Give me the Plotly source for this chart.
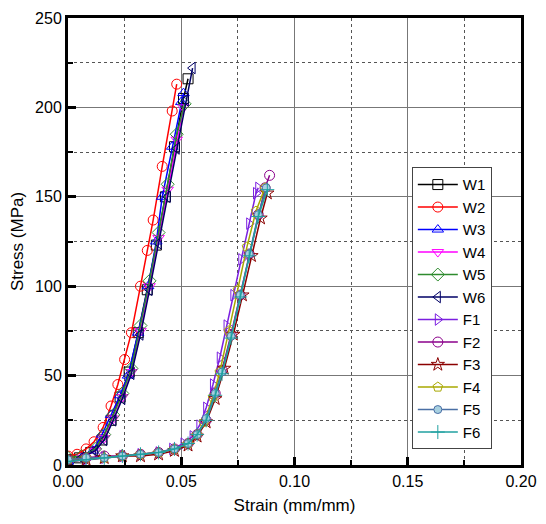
import plotly.graph_objects as go

# strain (mm/mm) / stress (MPa)
w1_x = [0, 0.005, 0.010, 0.015, 0.019, 0.023, 0.027, 0.031, 0.035, 0.039, 0.043, 0.047, 0.051, 0.053]
w1_y = [3, 4, 7, 14, 25, 38, 52, 74, 98, 123, 150, 178, 205, 216]
w2_x = [0, 0.004, 0.008, 0.0115, 0.0155, 0.019, 0.022, 0.025, 0.028, 0.032, 0.035, 0.0376, 0.0416, 0.046, 0.048]
w2_y = [5, 6, 9, 13, 21, 33, 45, 59, 74, 100, 120, 137, 167, 198, 213]
w3_x = [0, 0.006, 0.011, 0.015, 0.019, 0.023, 0.0265, 0.031, 0.0354, 0.039, 0.0416, 0.046, 0.050, 0.051]
w3_y = [2, 4, 8, 17, 28, 39, 50, 74, 100, 125, 150, 178, 203, 208]
w4_x = [0, 0.006, 0.012, 0.016, 0.020, 0.024, 0.028, 0.032, 0.036, 0.040, 0.044, 0.048, 0.051]
w4_y = [3, 4, 8, 15, 26, 38, 52, 75, 100, 127, 154, 182, 200]
w5_x = [0, 0.006, 0.012, 0.016, 0.020, 0.024, 0.028, 0.032, 0.036, 0.040, 0.044, 0.048, 0.0515]
w5_y = [4, 5, 9, 17, 28, 40, 54, 78, 103, 130, 157, 185, 202]
w6_x = [0, 0.006, 0.012, 0.016, 0.020, 0.024, 0.028, 0.032, 0.036, 0.040, 0.044, 0.048, 0.052, 0.055]
w6_y = [2, 4, 8, 14, 25, 37, 51, 73, 98, 124, 150, 177, 204, 222]

f1_x = [0, 0.008, 0.016, 0.024, 0.032, 0.040, 0.046, 0.051, 0.055, 0.058, 0.061, 0.064, 0.067, 0.070, 0.073, 0.0765, 0.080, 0.083, 0.084]
f1_y = [2, 3, 4, 5, 6, 7, 9, 12, 16, 22, 32, 45, 60, 78, 95, 115, 135, 152, 155]
f2_x = [0, 0.008, 0.016, 0.024, 0.032, 0.040, 0.047, 0.053, 0.057, 0.061, 0.065, 0.068, 0.072, 0.076, 0.080, 0.084, 0.087, 0.089]
f2_y = [3, 4, 5, 5, 6, 7, 9, 12, 17, 25, 40, 53, 73, 95, 118, 140, 155, 162]
f3_x = [0, 0.008, 0.016, 0.024, 0.032, 0.040, 0.047, 0.053, 0.057, 0.061, 0.065, 0.069, 0.073, 0.077, 0.081, 0.085, 0.088]
f3_y = [2, 3, 4, 5, 5, 6, 8, 11, 16, 24, 37, 54, 73, 95, 117, 138, 152]
f4_x = [0, 0.008, 0.016, 0.024, 0.032, 0.040, 0.047, 0.053, 0.057, 0.060, 0.064, 0.067, 0.071, 0.075, 0.079, 0.083, 0.087]
f4_y = [3, 4, 4, 5, 6, 7, 9, 12, 17, 24, 38, 52, 75, 98, 122, 142, 155]
f5_x = [0, 0.008, 0.016, 0.024, 0.032, 0.040, 0.047, 0.053, 0.057, 0.061, 0.065, 0.068, 0.072, 0.076, 0.080, 0.084, 0.0875]
f5_y = [3, 4, 4, 5, 6, 7, 9, 12, 17, 26, 40, 52, 72, 95, 118, 140, 155]
f6_x = [0, 0.008, 0.016, 0.024, 0.032, 0.040, 0.047, 0.053, 0.057, 0.061, 0.065, 0.068, 0.072, 0.076, 0.080, 0.084, 0.088]
f6_y = [2, 3, 4, 5, 6, 7, 9, 12, 17, 25, 39, 51, 71, 94, 117, 139, 154]

series = [
    ('W1', w1_x, w1_y, 'black', 'square-open'),
    ('W2', w2_x, w2_y, '#ff0000', 'circle-open'),
    ('W3', w3_x, w3_y, '#0000ff', 'triangle-up-open'),
    ('W4', w4_x, w4_y, '#ff00ff', 'triangle-down-open'),
    ('W5', w5_x, w5_y, '#2e8b2e', 'diamond-open'),
    ('W6', w6_x, w6_y, '#000066', 'triangle-left-open'),
    ('F1', f1_x, f1_y, '#7b1fe0', 'triangle-right-open'),
    ('F2', f2_x, f2_y, '#8b008b', 'circle-open'),
    ('F3', f3_x, f3_y, '#8b0000', 'star-open'),
    ('F4', f4_x, f4_y, '#a8a800', 'pentagon-open'),
    ('F5', f5_x, f5_y, '#4a6fa5', 'circle'),
    ('F6', f6_x, f6_y, '#20a0a0', 'cross-thin-open'),
]

fig = go.Figure()
for name, xs, ys, col, sym in series:
    mk = dict(symbol=sym, size=10, color=col, line=dict(color=col, width=1))
    if sym == 'circle':
        mk = dict(symbol=sym, size=8, color='#a8d0e0', line=dict(color=col, width=1))
    fig.add_trace(go.Scatter(x=xs, y=ys, name=name, mode='lines+markers',
                             line=dict(color=col, width=1.5), marker=mk))

axis_common = dict(
    showline=True, linecolor='black', linewidth=3, mirror=True,
    ticks='inside', ticklen=8, tickwidth=3, tickcolor='black',
    showgrid=True, gridcolor='#777777', gridwidth=1,
    zeroline=False, automargin=False,
    tickfont=dict(family='Arial', size=16, color='black'),
)

fig.update_xaxes(range=[0, 0.2], dtick=0.05, tickformat='.2f',
                 title=dict(text='Strain (mm/mm)', font=dict(family='Arial', size=17, color='black'), standoff=10),
                 minor=dict(dtick=0.025, showgrid=True, griddash='dot', gridcolor='#555555',
                            ticks='inside', ticklen=5, tickwidth=2, tickcolor='black'),
                 **axis_common)
fig.update_yaxes(range=[0, 250], dtick=50,
                 title=dict(text='Stress (MPa)', font=dict(family='Arial', size=17, color='black'), standoff=8),
                 minor=dict(dtick=25, showgrid=True, griddash='dot', gridcolor='#555555',
                            ticks='inside', ticklen=5, tickwidth=2, tickcolor='black'),
                 **axis_common)

# page body has an 8px margin, so the figure is drawn 8px smaller on each side
fig.update_layout(
    width=530, height=508,
    margin=dict(l=60, r=17, t=10, b=51),
    plot_bgcolor='white', paper_bgcolor='white',
    legend=dict(x=0.759, y=0.666, xanchor='left', yanchor='top',
                bgcolor='white', bordercolor='#444444', borderwidth=1,
                font=dict(family='Arial', size=15, color='black'),
                itemwidth=40, entrywidth=80, tracegroupgap=0),
)

fig.write_html("out.html")
